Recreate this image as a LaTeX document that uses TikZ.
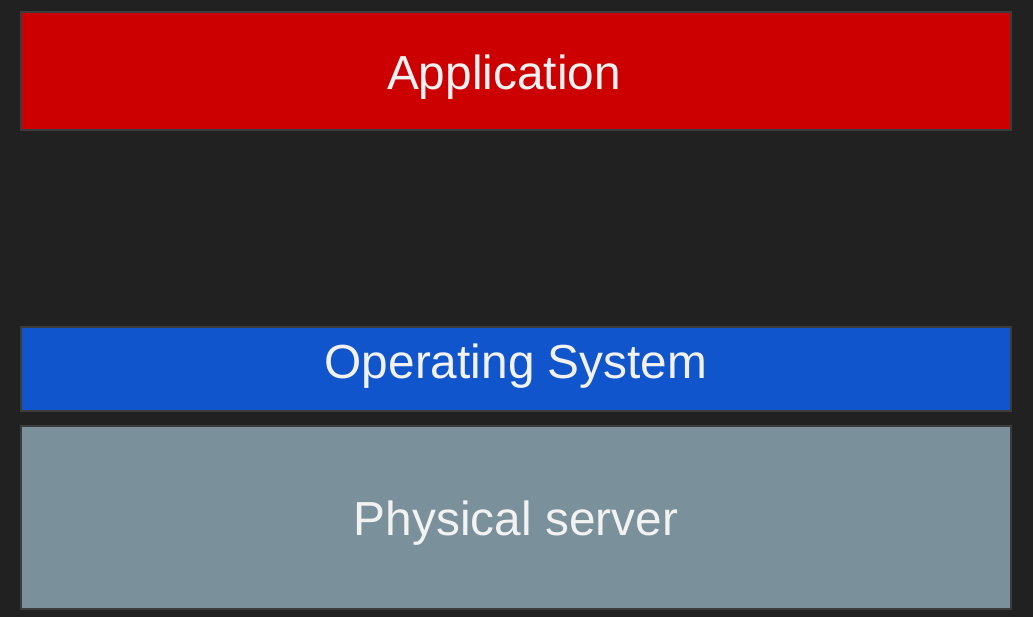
\documentclass[tikz,border=0pt]{standalone}
\usepackage{fontspec}
\setmainfont{Liberation Sans}
\definecolor{bg}{HTML}{212121}
\definecolor{edge}{HTML}{3C3C3C}
\definecolor{appred}{HTML}{CC0000}
\definecolor{osblue}{HTML}{1155CC}
\definecolor{hwgray}{HTML}{7A909A}
\definecolor{label}{HTML}{F2F2F2}
\begin{document}
\begin{tikzpicture}[x=1pt, y=-1pt]
\tikzstyle{layer}=[rectangle,draw=edge,line width=2pt,minimum width=990pt,inner sep=0pt]
\tikzstyle{tag}=[anchor=base,inner sep=0pt,text=label,font=\fontsize{47.8}{52}\selectfont]
\fill[bg] (0,0) rectangle (1033,617);
\useasboundingbox (0,0) rectangle (1033,617);
% the three layers, top to bottom
\node[layer,fill=appred,minimum height=118pt](app) at (516,71) {};
\node[layer,fill=osblue,minimum height=84pt](os)   at (516,369) {};
\node[layer,fill=hwgray,minimum height=183pt](hw)  at (516,517.5) {};
% their names
\node[tag](appname) at ([xshift=-12pt,yshift=-19pt]app.center) {Application};
\node[tag](osname)  at ([yshift=-9pt]os.center) {Operating System};
\node[tag](hwname)  at ([yshift=-17.5pt]hw.center) {Physical server};
\end{tikzpicture}
\end{document}
